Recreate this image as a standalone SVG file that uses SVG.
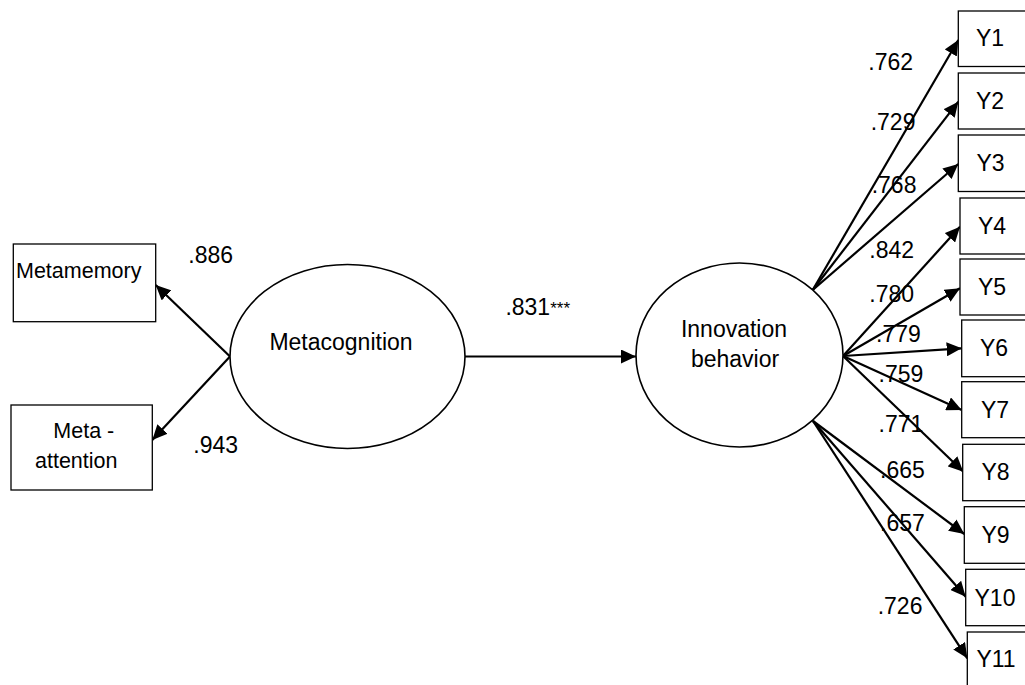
<svg xmlns="http://www.w3.org/2000/svg" width="1025" height="685" viewBox="0 0 1025 685">
<defs>
<style>
text{font-family:"Liberation Sans",Arial,sans-serif;fill:#000}
.box{fill:#fff;stroke:#000;stroke-width:1.3}
.ell{fill:#fff;stroke:#000;stroke-width:1.6}
.lbl{font-size:23px}
.sm{font-size:21.5px}
.ylab{font-size:23px;text-anchor:middle}
.num{font-size:23px}
.star{font-size:17px}
.con{stroke:#000;stroke-width:2.2;fill:none;marker-end:url(#ah)}
</style>
<marker id="ah" markerUnits="userSpaceOnUse" markerWidth="16" markerHeight="14" refX="15" refY="7" orient="auto">
<path d="M0,0 L15,7 L0,14 z" fill="#000"/>
</marker>
</defs>
<rect width="1025" height="685" fill="#fff"/>

<g id="connectors">
<line class="con" x1="230" y1="356.5" x2="155.7" y2="285"/>
<line class="con" x1="230" y1="356.5" x2="152.3" y2="440"/>
<line class="con" x1="465" y1="356.5" x2="636" y2="356.5"/>
<line class="con" x1="812.7" y1="290" x2="958.3" y2="40"/>
<line class="con" x1="812.7" y1="290" x2="958.3" y2="101.7"/>
<line class="con" x1="812.7" y1="290" x2="958.3" y2="164"/>
<line class="con" x1="843" y1="356" x2="960" y2="226.7"/>
<line class="con" x1="843" y1="356" x2="960" y2="288.3"/>
<line class="con" x1="843" y1="356" x2="961.7" y2="348.3"/>
<line class="con" x1="843" y1="356" x2="961.7" y2="410"/>
<line class="con" x1="843" y1="356" x2="963.3" y2="471.7"/>
<line class="con" x1="813" y1="421" x2="964.3" y2="534"/>
<line class="con" x1="813" y1="421" x2="965.7" y2="596.7"/>
<line class="con" x1="813" y1="421" x2="967.3" y2="658.3"/>
</g>

<g id="metamemory">
<rect class="box" x="13.3" y="244" width="142.4" height="77.7"/>
<text class="sm" x="16" y="278">Metamemory</text>
</g>
<g id="meta-attention">
<rect class="box" x="11" y="405" width="141.3" height="85"/>
<text class="sm" x="53.3" y="438.3">Meta -</text>
<text class="sm" x="35" y="468.3">attention</text>
</g>
<g id="metacognition">
<ellipse class="ell" cx="347.5" cy="356.5" rx="117.5" ry="92"/>
<text class="lbl" x="341" y="350" text-anchor="middle">Metacognition</text>
</g>
<g id="innovation-behavior">
<ellipse class="ell" cx="739.5" cy="355" rx="103.5" ry="92"/>
<text class="lbl" x="734" y="337.3" text-anchor="middle">Innovation</text>
<text class="lbl" x="735" y="367.3" text-anchor="middle">behavior</text>
</g>

<g id="Y1"><rect class="box" x="958.3" y="11" width="80" height="55.5"/><text class="ylab" x="990" y="46">Y1</text></g>
<g id="Y2"><rect class="box" x="958.3" y="73" width="80" height="56"/><text class="ylab" x="990" y="108.5">Y2</text></g>
<g id="Y3"><rect class="box" x="958.3" y="135" width="80" height="56.5"/><text class="ylab" x="990.5" y="171">Y3</text></g>
<g id="Y4"><rect class="box" x="960" y="198" width="80" height="56"/><text class="ylab" x="992" y="234">Y4</text></g>
<g id="Y5"><rect class="box" x="960" y="259" width="80" height="56"/><text class="ylab" x="992" y="295">Y5</text></g>
<g id="Y6"><rect class="box" x="961.7" y="320" width="80" height="56.7"/><text class="ylab" x="994" y="356">Y6</text></g>
<g id="Y7"><rect class="box" x="961.7" y="381.7" width="80" height="56"/><text class="ylab" x="995" y="417.5">Y7</text></g>
<g id="Y8"><rect class="box" x="962.7" y="444.3" width="80" height="56.4"/><text class="ylab" x="995.5" y="480">Y8</text></g>
<g id="Y9"><rect class="box" x="964.3" y="506.7" width="80" height="56.6"/><text class="ylab" x="995.5" y="543">Y9</text></g>
<g id="Y10"><rect class="box" x="965.7" y="569.3" width="80" height="56.4"/><text class="ylab" x="995" y="606">Y10</text></g>
<g id="Y11"><rect class="box" x="967.3" y="632" width="80" height="70"/><text class="ylab" x="996" y="667">Y11</text></g>

<g id="labels">
<text class="num" x="188.3" y="263.3">.886</text>
<text class="num" x="193.3" y="453.3">.943</text>
<text class="num" x="505.4" y="315">.831<tspan class="star" dy="-1">***</tspan></text>
<text class="num" x="868.3" y="70">.762</text>
<text class="num" x="870.7" y="130">.729</text>
<text class="num" x="871.7" y="193.3">.768</text>
<text class="num" x="869.3" y="258.3">.842</text>
<text class="num" x="869.3" y="301.7">.780</text>
<text class="num" x="876" y="342">.779</text>
<text class="num" x="878.5" y="381.7">.759</text>
<text class="num" x="878.5" y="431.7">.771</text>
<text class="num" x="880" y="478.3">.665</text>
<text class="num" x="880" y="530.7">.657</text>
<text class="num" x="877.7" y="614">.726</text>
</g>
</svg>
